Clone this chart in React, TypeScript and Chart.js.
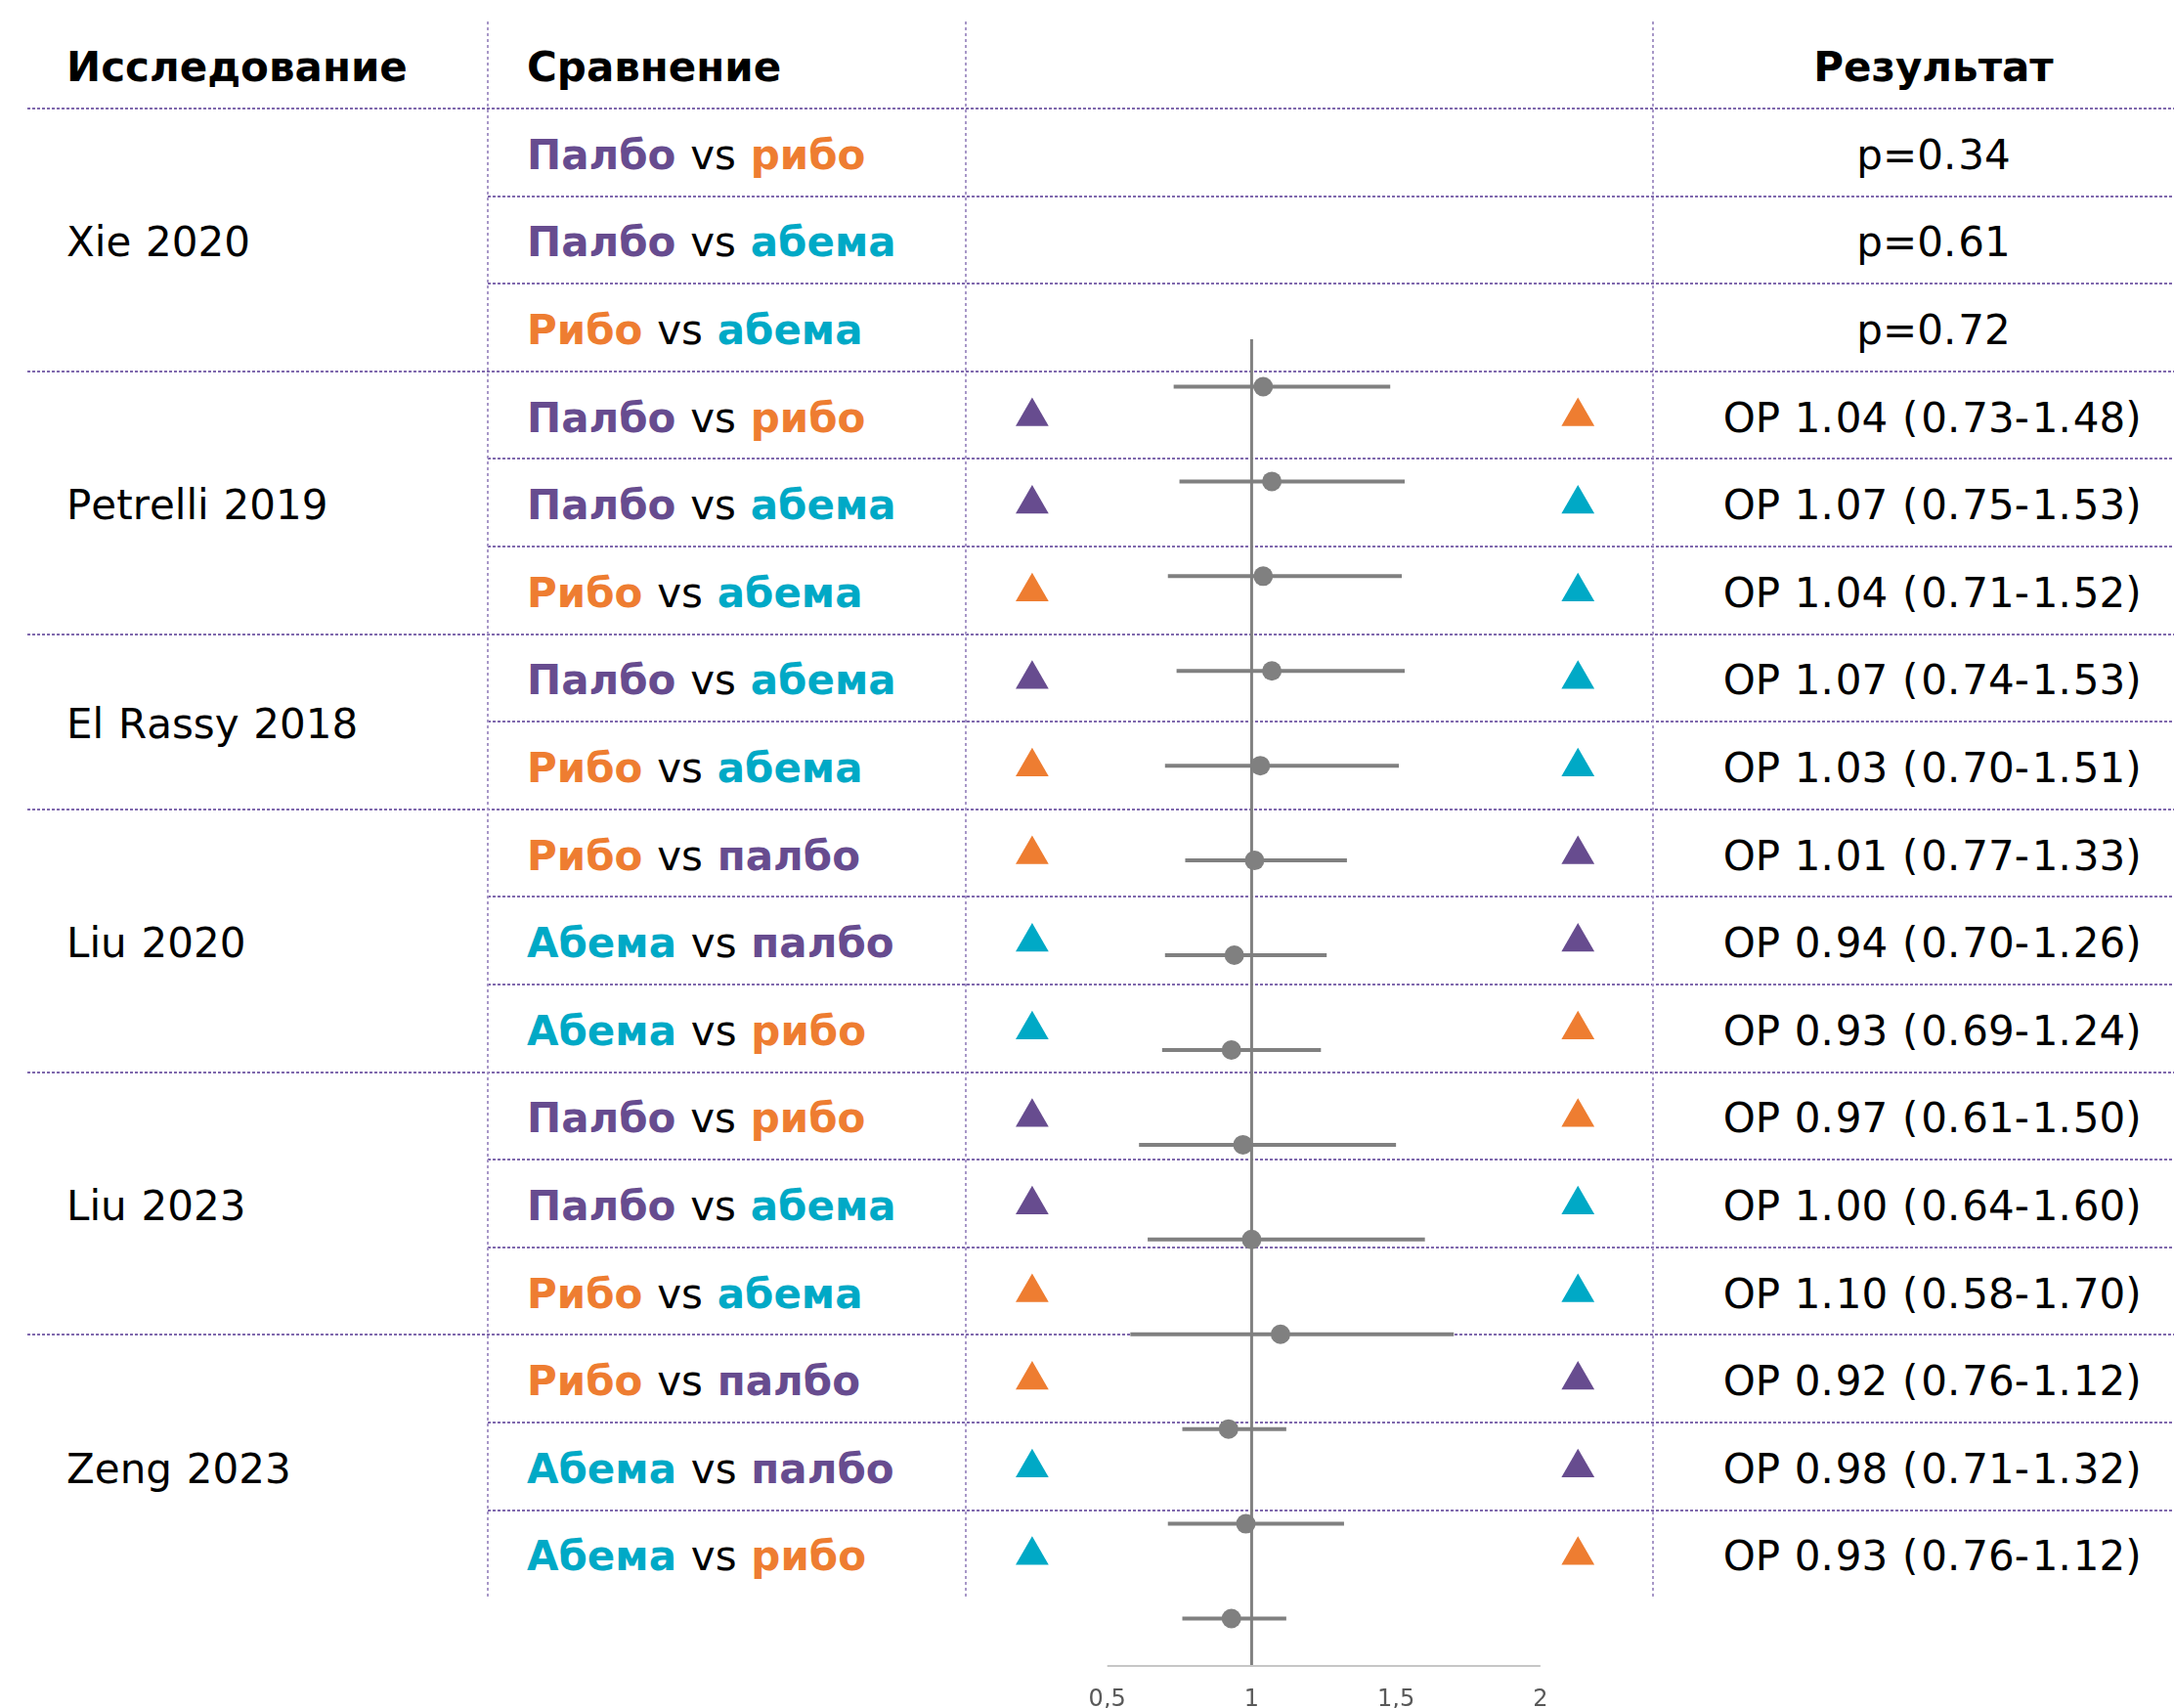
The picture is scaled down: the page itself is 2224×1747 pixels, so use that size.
import React, { useEffect, useRef } from 'react';
import { Chart, registerables } from 'chart.js';

Chart.register(...registerables);

// ---------- data ----------
const HEADERS = ['Исследование', 'Сравнение', 'Результат'];
const STUDIES = ['Xie 2020', 'Petrelli 2019', 'El Rassy 2018', 'Liu 2020', 'Liu 2023', 'Zeng 2023'];
const STUDY_ROWS = [3, 3, 2, 3, 3, 3];
const DRUG_FIRST = ['palbo', 'palbo', 'ribo', 'palbo', 'palbo', 'ribo', 'palbo', 'ribo', 'ribo', 'abema', 'abema', 'palbo', 'palbo', 'ribo', 'ribo', 'abema', 'abema'];
const DRUG_SECOND = ['ribo', 'abema', 'abema', 'ribo', 'abema', 'abema', 'abema', 'abema', 'palbo', 'palbo', 'ribo', 'ribo', 'abema', 'abema', 'palbo', 'palbo', 'ribo'];
const P_VALUES = ['0.34', '0.61', '0.72'];
const OR_VALUES = [1.04, 1.07, 1.04, 1.07, 1.03, 1.01, 0.94, 0.93, 0.97, 1.0, 1.1, 0.92, 0.98, 0.93];
const CI_LOW = [0.73, 0.75, 0.71, 0.74, 0.7, 0.77, 0.7, 0.69, 0.61, 0.64, 0.58, 0.76, 0.71, 0.76];
const CI_HIGH = [1.48, 1.53, 1.52, 1.53, 1.51, 1.33, 1.26, 1.24, 1.5, 1.6, 1.7, 1.12, 1.32, 1.12];
const X_TICKS = [0.5, 1, 1.5, 2];
const X_TICK_LABELS = ['0,5', '1', '1,5', '2'];
const REF_VALUE = 1;

const DRUG_NAME: Record<string, string> = { palbo: 'палбо', ribo: 'рибо', abema: 'абема' };
const DRUG_COLOR: Record<string, string> = { palbo: '#674C8F', ribo: '#EE7D31', abema: '#00A9C6' };

// ---------- layout / style ----------
const FONT = '"DejaVu Sans", Verdana, sans-serif';
const FONT_SIZE = 42;
const TABLE_TOP = 22;
const HEADER_LINE = 111;
const ROW_H = 89.6;
const N_ROWS = DRUG_FIRST.length;
const TABLE_BOTTOM = HEADER_LINE + N_ROWS * ROW_H;
const LINE_LEFT = 28;
const COL_LINES = [499, 988, 1691];
const STUDY_TEXT_X = 68;
const COMP_TEXT_X = 539;
const RESULT_CENTER = 1978;
const TEXT_SHIFT = 3;
const PAGE_W = 2224;
const PAGE_H = 1747;
const H_LINE_COLOR = '#7F68AD';
const V_LINE_COLOR = '#A898C8';
const GRAY = '#808080';
const AXIS_COLOR = '#C6C6C6';
// extra spacing (em) so DejaVu punctuation matches Verdana-like widths
const PUNCT_SPACING: Record<string, string> = { '.': '0.046em', '(': '0.064em', ')': '0.064em', '-': '0.07em', ' ': '0.034em' };

// chart canvas placement
const CANVAS_LEFT = 985;
const CANVAS_TOP = 300;
const CANVAS_W = 709;
const CANVAS_H = 1485;
const PLOT_TOP = 347; // page y of plot area top
const PLOT_BOTTOM = 1704; // page y of x-axis
const X_MIN = 0;
const X_MAX = 2.4;
const MARKER_LEFT_X = 0.24;
const MARKER_RIGHT_X = 2.13;
const OR_FIRST_ROW = P_VALUES.length;
const MARKER_ROW_OFFSET = 0.015;

// y2 axis in table-row units (row centres)
const Y2_MIN = (PLOT_TOP - HEADER_LINE) / ROW_H - 0.5;
const Y2_MAX = (PLOT_BOTTOM - HEADER_LINE) / ROW_H - 0.5;

const cap = (s: string) => s.charAt(0).toUpperCase() + s.slice(1);

const forestPlugin = {
  id: 'forest',
  beforeDatasetsDraw(chart: any) {
    const { ctx, chartArea, scales } = chart;
    const x = scales.x;
    const y = scales.y;
    ctx.save();
    ctx.strokeStyle = GRAY;
    ctx.lineWidth = 3;
    const xr = x.getPixelForValue(REF_VALUE);
    ctx.beginPath();
    ctx.moveTo(xr, chartArea.top);
    ctx.lineTo(xr, chartArea.bottom);
    ctx.stroke();
    ctx.lineWidth = 4;
    CI_LOW.forEach((lo, i) => {
      const py = y.getPixelForValue(i);
      ctx.beginPath();
      ctx.moveTo(x.getPixelForValue(lo), py);
      ctx.lineTo(x.getPixelForValue(CI_HIGH[i]), py);
      ctx.stroke();
    });
    ctx.strokeStyle = AXIS_COLOR;
    ctx.lineWidth = 2;
    ctx.beginPath();
    ctx.moveTo(x.getPixelForValue(X_TICKS[0]), chartArea.bottom);
    ctx.lineTo(x.getPixelForValue(X_TICKS[X_TICKS.length - 1]), chartArea.bottom);
    ctx.stroke();
    ctx.restore();
  },
};

function ForestChart() {
  const ref = useRef<HTMLCanvasElement>(null);
  useEffect(() => {
    if (!ref.current) return;
    const markers: { x: number; y: number }[] = [];
    const markerColors: string[] = [];
    OR_VALUES.forEach((_, i) => {
      const row = OR_FIRST_ROW + i;
      markers.push({ x: MARKER_LEFT_X, y: row + MARKER_ROW_OFFSET });
      markerColors.push(DRUG_COLOR[DRUG_FIRST[row]]);
      markers.push({ x: MARKER_RIGHT_X, y: row + MARKER_ROW_OFFSET });
      markerColors.push(DRUG_COLOR[DRUG_SECOND[row]]);
    });
    const chart = new Chart(ref.current, {
      type: 'scatter',
      data: {
        datasets: [
          {
            label: 'ОР',
            data: OR_VALUES.map((v, i) => ({ x: v, y: i })),
            xAxisID: 'x',
            yAxisID: 'y',
            pointRadius: 10,
            pointHoverRadius: 10,
            pointBackgroundColor: GRAY,
            pointBorderWidth: 0,
          },
          {
            label: 'markers',
            data: markers,
            xAxisID: 'x',
            yAxisID: 'y2',
            pointStyle: 'triangle',
            pointRadius: 19.5,
            pointHoverRadius: 19.5,
            pointBackgroundColor: markerColors,
            pointBorderWidth: 0,
          },
        ],
      },
      options: {
        animation: false,
        responsive: false,
        events: [],
        layout: { autoPadding: false, padding: { top: PLOT_TOP - CANVAS_TOP, bottom: 11, left: 0, right: 0 } },
        plugins: { legend: { display: false }, tooltip: { enabled: false } },
        scales: {
          x: {
            type: 'linear',
            min: X_MIN,
            max: X_MAX,
            grid: { display: false, drawTicks: false },
            border: { display: false },
            afterBuildTicks: (s: any) => {
              s.ticks = X_TICKS.map((v) => ({ value: v }));
            },
            ticks: {
              autoSkip: false,
              maxRotation: 0,
              padding: 23,
              color: '#595959',
              font: { family: FONT, size: 24, lineHeight: 1 },
              callback: (v: any) => {
                const idx = X_TICKS.indexOf(Number(v));
                return idx >= 0 ? X_TICK_LABELS[idx] : '';
              },
            },
          },
          y: { type: 'linear', min: -0.5, max: OR_VALUES.length - 0.5, reverse: true, display: false },
          y2: { type: 'linear', min: Y2_MIN, max: Y2_MAX, reverse: true, display: false },
        },
      } as any,
      plugins: [forestPlugin],
    });
    return () => chart.destroy();
  }, []);
  return (
    <canvas
      ref={ref}
      width={CANVAS_W}
      height={CANVAS_H}
      style={{ position: 'absolute', left: CANVAS_LEFT, top: CANVAS_TOP, width: CANVAS_W, height: CANVAS_H }}
    />
  );
}

const cellBase: React.CSSProperties = {
  position: 'absolute',
  display: 'flex',
  alignItems: 'center',
  whiteSpace: 'pre',
  fontFamily: FONT,
  fontSize: FONT_SIZE,
  lineHeight: 1,
  color: '#000',
  paddingTop: TEXT_SHIFT * 2,
  boxSizing: 'border-box',
};

function Spaced({ text }: { text: string }) {
  return (
    <>
      {Array.from(text).map((ch, i) =>
        PUNCT_SPACING[ch] ? (
          <span key={i} style={{ letterSpacing: PUNCT_SPACING[ch] }}>
            {ch}
          </span>
        ) : (
          <span key={i}>{ch}</span>
        )
      )}
    </>
  );
}

export default function App() {
  const hLines: React.ReactNode[] = [];
  const groupStarts = new Set<number>([0]);
  let acc = 0;
  STUDY_ROWS.forEach((n) => {
    acc += n;
    groupStarts.add(acc);
  });
  for (let k = 0; k < N_ROWS; k++) {
    const full = groupStarts.has(k);
    const left = full ? LINE_LEFT : COL_LINES[0];
    hLines.push(
      <div
        key={'h' + k}
        style={{
          position: 'absolute',
          left,
          top: HEADER_LINE + k * ROW_H - 1,
          width: PAGE_W - left,
          height: 2,
          background: `repeating-linear-gradient(to right, ${H_LINE_COLOR} 0 3px, transparent 3px 5px)`,
        }}
      />
    );
  }
  const vLines = COL_LINES.map((x) => (
    <div
      key={'v' + x}
      style={{
        position: 'absolute',
        left: x - 1,
        top: TABLE_TOP,
        width: 2,
        height: TABLE_BOTTOM - TABLE_TOP,
        background: `repeating-linear-gradient(to bottom, ${V_LINE_COLOR} 0 3px, transparent 3px 6px)`,
      }}
    />
  ));

  const studyCells: React.ReactNode[] = [];
  let start = 0;
  STUDIES.forEach((s, i) => {
    const n = STUDY_ROWS[i];
    studyCells.push(
      <div key={'s' + i} style={{ ...cellBase, left: STUDY_TEXT_X, top: HEADER_LINE + start * ROW_H, height: n * ROW_H }}>
        <Spaced text={s} />
      </div>
    );
    start += n;
  });

  const compCells = DRUG_FIRST.map((d1, r) => {
    const d2 = DRUG_SECOND[r];
    return (
      <div key={'c' + r} style={{ ...cellBase, left: COMP_TEXT_X, top: HEADER_LINE + r * ROW_H, height: ROW_H }}>
        <span style={{ fontWeight: 'bold', color: DRUG_COLOR[d1] }}>{cap(DRUG_NAME[d1])}</span>
        <span style={{ letterSpacing: PUNCT_SPACING[' '] }}> </span>
        <span>vs</span>
        <span style={{ letterSpacing: PUNCT_SPACING[' '] }}> </span>
        <span style={{ fontWeight: 'bold', color: DRUG_COLOR[d2] }}>{DRUG_NAME[d2]}</span>
      </div>
    );
  });

  const resultTexts = [
    ...P_VALUES.map((p) => `p=${p}`),
    ...OR_VALUES.map((v, i) => `ОР ${v.toFixed(2)} (${CI_LOW[i].toFixed(2)}-${CI_HIGH[i].toFixed(2)})`),
  ];
  const resultW = (RESULT_CENTER - COL_LINES[2]) * 2;
  const resultCells = resultTexts.map((t, r) => (
    <div
      key={'r' + r}
      style={{ ...cellBase, left: COL_LINES[2], width: resultW, justifyContent: 'center', top: HEADER_LINE + r * ROW_H, height: ROW_H }}
    >
      <Spaced text={t} />
    </div>
  ));

  const headerStyle: React.CSSProperties = { ...cellBase, paddingTop: 4, top: TABLE_TOP, height: HEADER_LINE - TABLE_TOP, fontWeight: 'bold' };

  return (
    <div style={{ position: 'absolute', left: 0, top: 0, width: PAGE_W, height: PAGE_H, overflow: 'hidden', background: '#fff' }}>
      {hLines}
      {vLines}
      <div style={{ ...headerStyle, left: STUDY_TEXT_X }}>{HEADERS[0]}</div>
      <div style={{ ...headerStyle, left: COMP_TEXT_X }}>{HEADERS[1]}</div>
      <div style={{ ...headerStyle, left: COL_LINES[2], width: resultW, justifyContent: 'center' }}>{HEADERS[2]}</div>
      {studyCells}
      {compCells}
      {resultCells}
      <ForestChart />
    </div>
  );
}
